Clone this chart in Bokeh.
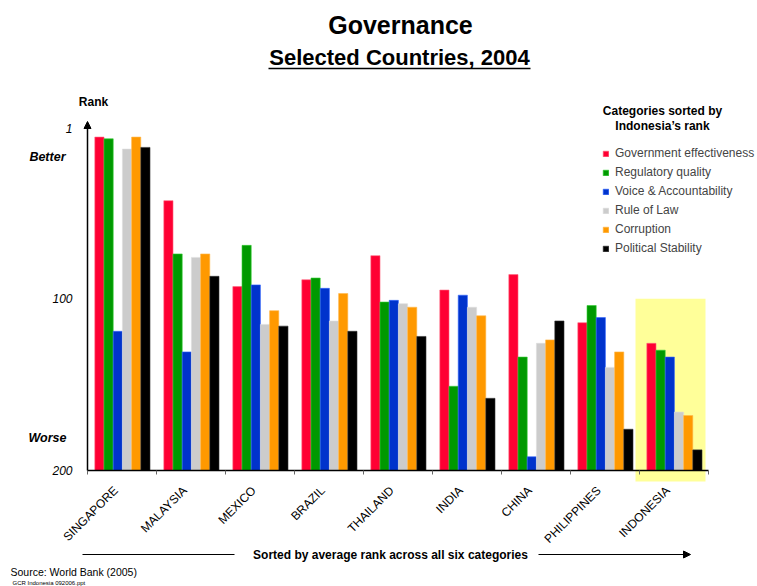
import math
from bokeh.plotting import figure
from bokeh.models import (Range1d, FixedTicker, LinearAxis, BoxAnnotation, Label,
                          Arrow, NormalHead, Legend, LegendItem)
from bokeh.embed import file_html
from bokeh.resources import INLINE

countries = ["SINGAPORE", "MALAYSIA", "MEXICO", "BRAZIL", "THAILAND",
             "INDIA", "CHINA", "PHILIPPINES", "INDONESIA"]
categories = ["Government effectiveness", "Regulatory quality", "Voice & Accountability",
              "Rule of Law", "Corruption", "Political Stability"]
gov_eff    = [6, 43, 93, 89, 75, 95, 86, 114, 126]
reg_qual   = [7, 74, 69, 88, 102, 151, 134, 104, 130]
voice_acc  = [119, 131, 92, 94, 101, 98, 192, 111, 134]
rule_law   = [13, 76, 115, 113, 103, 105, 126, 140, 166]
corruption = [6, 74, 107, 97, 105, 110, 124, 131, 168]
pol_stab   = [12, 87, 116, 119, 122, 158, 113, 176, 188]
series = [gov_eff, reg_qual, voice_acc, rule_law, corruption, pol_stab]
colors = ["#FF0033", "#009900", "#0033CC", "#CCCCCC", "#FF9900", "#000000"]
edge_colors = ["#FF6680", "#33CC33", "#3366FF", "#DDDDDD", "#FFB84D", "#333333"]
y_ticks = [1, 100, 200]

FONT = "Liberation Sans"
W, H = 757, 586

# page px -> data coords (plot area: x 87..708 <-> 0..9, y 128..470 <-> 1..200)
def dx(px):
    return (px - 87) * 9 / 621.0

def dy(py):
    return 1 + (py - 128) * 199 / 342.0

p = figure(width=W, height=H, output_backend="svg", toolbar_location=None,
           x_range=Range1d(dx(0), dx(W)), y_range=Range1d(dy(H), dy(0)),
           min_border=0, x_axis_type=None, y_axis_type=None)
p.outline_line_color = None
p.xgrid.visible = False
p.ygrid.visible = False

# highlight box for Indonesia
p.add_layout(BoxAnnotation(left=dx(635), right=dx(705), top=100, bottom=dy(481),
                           fill_color="#FFFF99", fill_alpha=1, line_color=None,
                           level="underlay"))

bw = 0.1333
renderers = []
for j, (vals, col, ec) in enumerate(zip(series, colors, edge_colors)):
    xs = [i + 0.506 + (j - 2.5) * bw for i in range(len(countries))]
    r = p.vbar(x=xs, top=vals, bottom=200, width=bw, fill_color=col,
               line_color=ec, line_width=0.6)
    renderers.append(r)

# axes
xaxis = LinearAxis(ticker=FixedTicker(ticks=[i + 0.41 for i in range(len(countries))],
                                      minor_ticks=list(range(len(countries) + 1))),
                   fixed_location=200, bounds=(0, 9))
xaxis.major_label_overrides = {i + 0.41: c for i, c in enumerate(countries)}
xaxis.major_label_orientation = math.pi / 4
xaxis.major_label_text_font = FONT
xaxis.major_label_text_font_size = "12px"
xaxis.major_label_text_color = "#000000"
xaxis.major_label_standoff = 12
xaxis.major_tick_line_color = None
xaxis.minor_tick_in = 0
xaxis.minor_tick_out = 4
xaxis.minor_tick_line_color = "#666666"
xaxis.axis_line_color = "#000000"
xaxis.axis_line_width = 1.5
p.add_layout(xaxis, "below")

yaxis = LinearAxis(ticker=FixedTicker(ticks=y_ticks, minor_ticks=[]),
                   fixed_location=0, bounds=(1, 200))
yaxis.major_label_text_font = FONT
yaxis.major_label_text_font_style = "italic"
yaxis.major_label_text_font_size = "12px"
yaxis.major_label_text_color = "#000000"
yaxis.major_label_standoff = 9
yaxis.major_tick_line_color = None
yaxis.minor_tick_line_color = None
yaxis.axis_line_color = "#000000"
yaxis.axis_line_width = 1.5
p.add_layout(yaxis, "left")

p.add_layout(Arrow(end=NormalHead(size=7, fill_color="black", line_color="black"),
                   x_start=0, y_start=1, x_end=0, y_end=dy(121), line_width=1.5))

def lab(text, px, py, size, style="normal", align="left", baseline="middle"):
    p.add_layout(Label(x=dx(px), y=dy(py), text=text, text_font=FONT,
                       text_font_size=size, text_font_style=style,
                       text_align=align, text_baseline=baseline, text_color="black"))

lab("Governance", 400, 24, "25px", "bold", "center")
lab("Selected Countries, 2004", 399, 57, "22px", "bold", "center")
p.add_layout(Arrow(end=None, x_start=dx(268), y_start=dy(68), x_end=dx(530), y_end=dy(68),
                   line_width=1.5))

lab("Rank", 93, 101, "12px", "bold", "center")
lab("Better", 65, 156, "12.5px", "bold italic", "right")
lab("Worse", 66, 437, "12.5px", "bold italic", "right")

lab("Categories sorted by", 662, 110, "12px", "bold", "center")
lab("Indonesia\u2019s rank", 662, 125, "12px", "bold", "center")

legend = Legend(items=[LegendItem(label=c, renderers=[r]) for c, r in zip(categories, renderers)],
                location=(602, H - 257.5), glyph_width=7, glyph_height=7, label_height=19,
                label_standoff=6, spacing=0, padding=0, margin=0,
                label_text_font=FONT, label_text_font_size="12px",
                border_line_color=None, background_fill_alpha=0)
p.add_layout(legend, "center")

lab("Sorted by average rank across all six categories", 390, 554, "12px", "bold", "center")
p.add_layout(Arrow(end=None, x_start=dx(82), y_start=dy(554), x_end=dx(234), y_end=dy(554),
                   line_width=1.2))
p.add_layout(Arrow(end=NormalHead(size=7, fill_color="black", line_color="black"),
                   x_start=dx(538), y_start=dy(554), x_end=dx(690), y_end=dy(554),
                   line_width=1.2))

lab("Source: World Bank (2005)", 10, 571, "10.5px")
lab("GCR Indonesia 092006.ppt", 12, 582, "6px")

open("out.html", "w").write(file_html(p, INLINE))
